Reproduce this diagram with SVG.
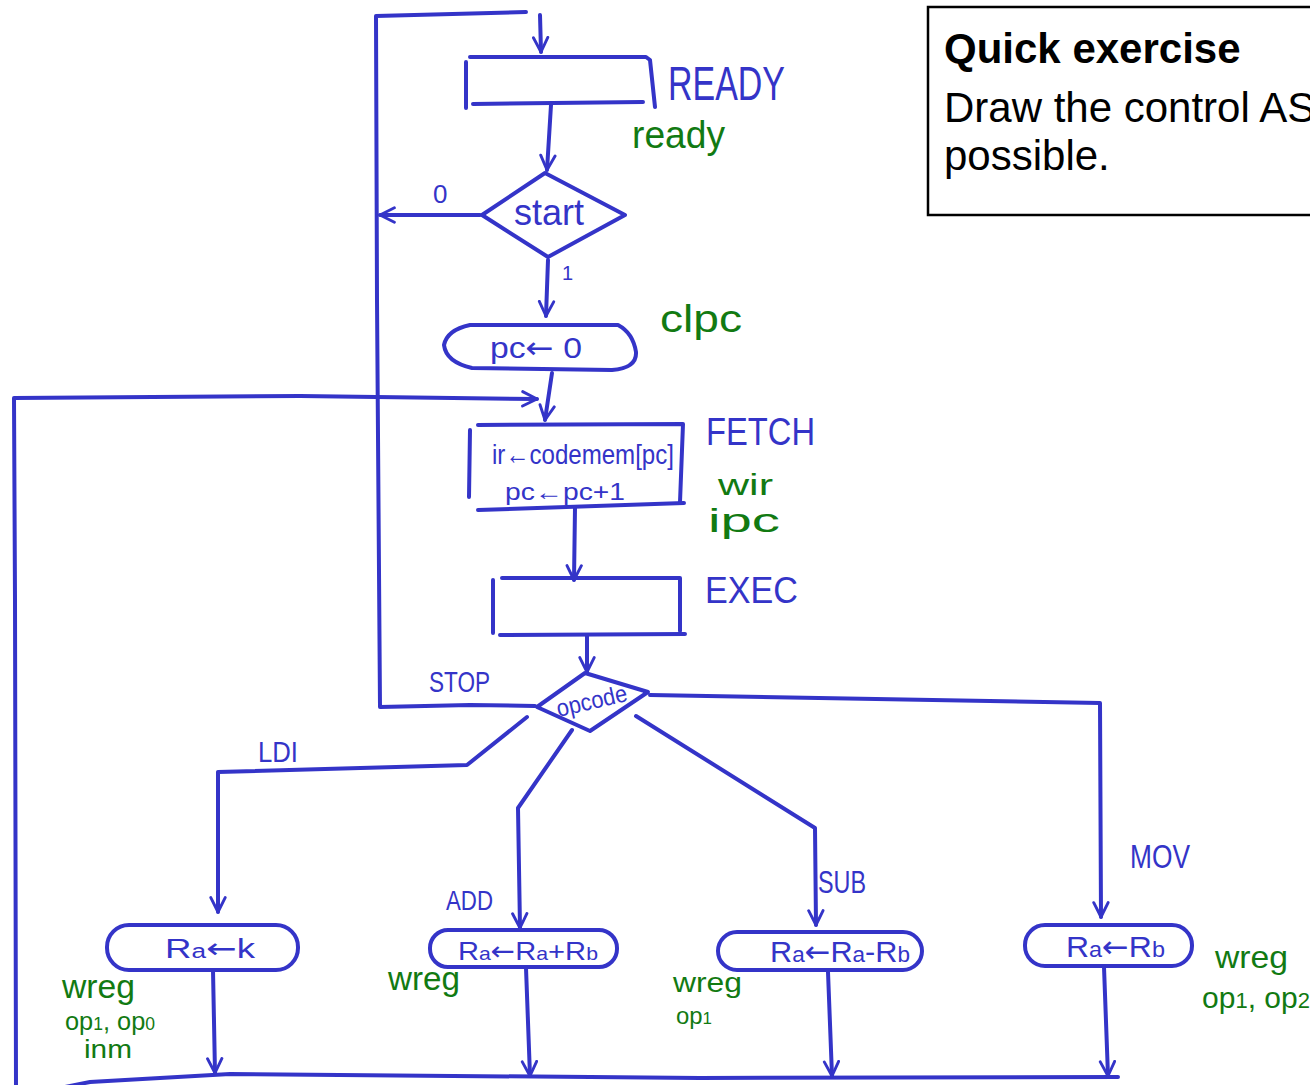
<svg xmlns="http://www.w3.org/2000/svg" width="1310" height="1085" viewBox="0 0 1310 1085">
  <style>
    .ink { fill: none; stroke: #3434c8; stroke-width: 4; stroke-linecap: round; stroke-linejoin: round; }
    .blue { fill: #3434c8; font-family: "Liberation Sans", Arial, sans-serif; }
    .green { fill: #127a12; font-family: "Liberation Sans", Arial, sans-serif; }
    .note { fill: #000; font-family: "Liberation Sans", Arial, sans-serif; font-size: 42px; }
    .arw { font-family: "DejaVu Sans", sans-serif; }
  </style>
  <defs>
    <marker id="arr" viewBox="0 0 20 20" refX="18" refY="10" markerWidth="18" markerHeight="18" markerUnits="userSpaceOnUse" orient="auto">
      <path d="M2,2 L18,10 L2,18" fill="none" stroke="#3434c8" stroke-width="3.2" stroke-linecap="round" stroke-linejoin="round"/>
    </marker>
  </defs>
  <rect width="1310" height="1085" fill="#fff"/>

  <!-- note box -->
  <g id="note">
    <rect x="928" y="7" width="400" height="208" fill="#fff" stroke="#000" stroke-width="2.5"/>
    <text class="note" x="944" y="63" font-weight="bold">Quick exercise</text>
    <text class="note" x="944" y="122">Draw the control AS</text>
    <text class="note" x="944" y="170">possible.</text>
  </g>

  <!-- connectors -->
  <g id="connectors">
    <path class="ink" d="M535,706 L470,705 L380,707 L377,300 L376,16 L526,12"/>
    <path class="ink" d="M540,15 L541,52" marker-end="url(#arr)"/>
    <path class="ink" d="M551,105 L547,170" marker-end="url(#arr)"/>
    <path class="ink" d="M480,215 L380,215" marker-end="url(#arr)"/>
    <path class="ink" d="M548,260 L546,316" marker-end="url(#arr)"/>
    <path class="ink" d="M552,373 L545,420" marker-end="url(#arr)"/>
    <path class="ink" d="M16,1090 L15,600 L14,398 L300,396 L537,399" marker-end="url(#arr)"/>
    <path class="ink" d="M1118,1077 L700,1078 L230,1074 L90,1082 L40,1092"/>
    <path class="ink" d="M575,508 L574,580" marker-end="url(#arr)"/>
    <path class="ink" d="M587,636 L587,672" marker-end="url(#arr)"/>
    <path class="ink" d="M527,717 L467,765 L218,772 L218,912" marker-end="url(#arr)"/>
    <path class="ink" d="M572,730 L518,808 L520,928" marker-end="url(#arr)"/>
    <path class="ink" d="M636,716 L815,828 L816,925" marker-end="url(#arr)"/>
    <path class="ink" d="M650,695 L1100,703 L1101,917" marker-end="url(#arr)"/>
    <path class="ink" d="M213,970 L215,1073" marker-end="url(#arr)"/>
    <path class="ink" d="M526,968 L530,1076" marker-end="url(#arr)"/>
    <path class="ink" d="M828,972 L832,1076" marker-end="url(#arr)"/>
    <path class="ink" d="M1104,967 L1108,1076" marker-end="url(#arr)"/>
    <text class="blue" x="433" y="203" font-size="26">0</text>
    <text class="blue" x="562" y="280" font-size="20">1</text>
    <text class="blue" x="429" y="692" font-size="30" textLength="61" lengthAdjust="spacingAndGlyphs">STOP</text>
    <text class="blue" x="258" y="762" font-size="30" textLength="40" lengthAdjust="spacingAndGlyphs">LDI</text>
    <text class="blue" x="446" y="910" font-size="28" textLength="47" lengthAdjust="spacingAndGlyphs">ADD</text>
    <text class="blue" x="818" y="893" font-size="32" textLength="48" lengthAdjust="spacingAndGlyphs">SUB</text>
    <text class="blue" x="1130" y="868" font-size="34" textLength="60" lengthAdjust="spacingAndGlyphs">MOV</text>
  </g>

  <!-- READY state -->
  <g id="ready">
    <path class="ink" d="M466,108 L466,62 M470,57 L646,57 L650,60 L655,107 M473,104 L643,102"/>
    <text class="blue" x="668" y="100" font-size="48" textLength="117" lengthAdjust="spacingAndGlyphs">READY</text>
    <text class="green" x="632" y="148" font-size="38" textLength="93" lengthAdjust="spacingAndGlyphs">ready</text>
  </g>

  <!-- start decision -->
  <g id="start">
    <path class="ink" d="M545,173 L625,215 L548,257 L482,215 Z"/>
    <text class="blue" x="549" y="225" font-size="36" text-anchor="middle" textLength="70" lengthAdjust="spacingAndGlyphs">start</text>
  </g>

  <!-- clear pc -->
  <g id="clpc">
    <path class="ink" d="M470,325 Q447,330 444,345 Q446,362 472,368 L612,370 Q637,368 636,352 Q633,333 618,325 Z"/>
    <text class="blue" x="490" y="358" font-size="30" textLength="92" lengthAdjust="spacingAndGlyphs">pc<tspan class="arw">←</tspan> 0</text>
    <text class="green" x="660" y="332" font-size="38" textLength="82" lengthAdjust="spacingAndGlyphs">clpc</text>
  </g>

  <!-- FETCH state -->
  <g id="fetch">
    <path class="ink" d="M470,430 L469,497 M478,425 L683,424 L680,502 M478,510 L684,503"/>
    <text class="blue" x="492" y="464" font-size="28" textLength="182" lengthAdjust="spacingAndGlyphs">ir←codemem[pc]</text>
    <text class="blue" x="505" y="500" font-size="24" textLength="120" lengthAdjust="spacingAndGlyphs">pc←pc+1</text>
    <text class="blue" x="706" y="445" font-size="38" textLength="109" lengthAdjust="spacingAndGlyphs">FETCH</text>
    <text class="green" x="718" y="495" font-size="30" textLength="55" lengthAdjust="spacingAndGlyphs">wir</text>
    <text class="green" x="708" y="532" font-size="34" textLength="72" lengthAdjust="spacingAndGlyphs">ipc</text>
  </g>

  <!-- EXEC state -->
  <g id="exec">
    <path class="ink" d="M493,580 L493,633 M502,578 L680,578 L680,631 M500,635 L685,634"/>
    <text class="blue" x="705" y="603" font-size="36" textLength="93" lengthAdjust="spacingAndGlyphs">EXEC</text>
  </g>

  <!-- opcode decision -->
  <g id="opcode">
    <path class="ink" d="M585,673 L648,692 L590,731 L537,707 Z"/>
    <text class="blue" x="592" y="709" font-size="24" text-anchor="middle" textLength="72" lengthAdjust="spacingAndGlyphs" transform="rotate(-13 592 702)">opcode</text>
  </g>

  <!-- LDI -->
  <g id="ldi">
    <rect class="ink" x="107" y="925" width="191" height="45" rx="22"/>
    <text class="blue" x="165" y="958" font-size="28" textLength="90" lengthAdjust="spacingAndGlyphs">R<tspan font-size="20">a</tspan><tspan class="arw">←</tspan>k</text>
    <text class="green" x="62" y="998" font-size="34" textLength="73" lengthAdjust="spacingAndGlyphs">wreg</text>
    <text class="green" x="65" y="1030" font-size="26" textLength="90" lengthAdjust="spacingAndGlyphs">op<tspan font-size="18">1</tspan>, op<tspan font-size="18">0</tspan></text>
    <text class="green" x="84" y="1058" font-size="26" textLength="48" lengthAdjust="spacingAndGlyphs">inm</text>
  </g>

  <!-- ADD -->
  <g id="add">
    <rect class="ink" x="430" y="930" width="187" height="37" rx="18"/>
    <text class="blue" x="458" y="960" font-size="26" textLength="140" lengthAdjust="spacingAndGlyphs">R<tspan font-size="19">a</tspan><tspan class="arw">←</tspan>R<tspan font-size="19">a</tspan>+R<tspan font-size="19">b</tspan></text>
    <text class="green" x="388" y="990" font-size="34" textLength="72" lengthAdjust="spacingAndGlyphs">wreg</text>
  </g>

  <!-- SUB -->
  <g id="sub">
    <rect class="ink" x="718" y="932" width="204" height="38" rx="19"/>
    <text class="blue" x="770" y="962" font-size="30" textLength="140" lengthAdjust="spacingAndGlyphs">R<tspan font-size="22">a</tspan><tspan class="arw">←</tspan>R<tspan font-size="22">a</tspan>-R<tspan font-size="22">b</tspan></text>
    <text class="green" x="673" y="992" font-size="28" textLength="69" lengthAdjust="spacingAndGlyphs">wreg</text>
    <text class="green" x="676" y="1024" font-size="24" textLength="36" lengthAdjust="spacingAndGlyphs">op<tspan font-size="17">1</tspan></text>
  </g>

  <!-- MOV -->
  <g id="mov">
    <rect class="ink" x="1025" y="925" width="167" height="41" rx="20"/>
    <text class="blue" x="1066" y="957" font-size="30" textLength="99" lengthAdjust="spacingAndGlyphs">R<tspan font-size="22">a</tspan><tspan class="arw">←</tspan>R<tspan font-size="22">b</tspan></text>
    <text class="green" x="1215" y="968" font-size="32" textLength="73" lengthAdjust="spacingAndGlyphs">wreg</text>
    <text class="green" x="1202" y="1008" font-size="30">op<tspan font-size="22">1</tspan>, op<tspan font-size="22">2</tspan></text>
  </g>
</svg>
